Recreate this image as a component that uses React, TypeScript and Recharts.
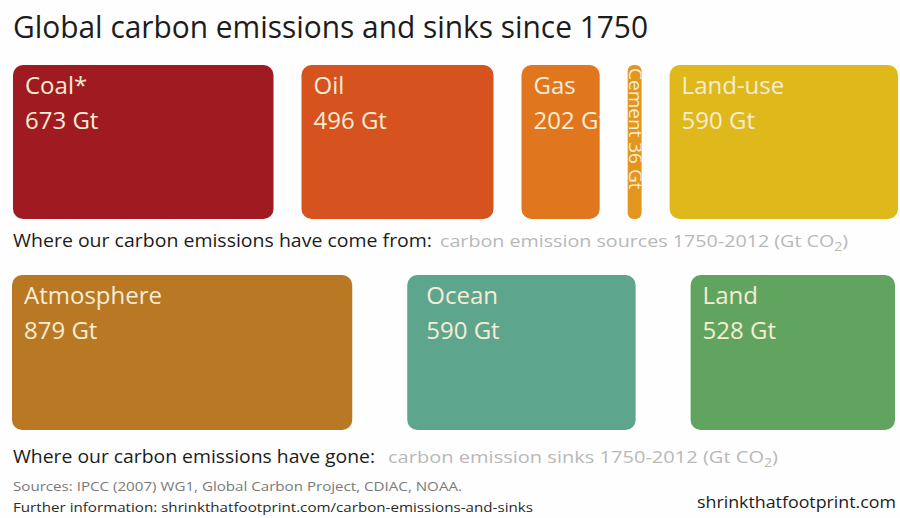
import { BarChart, Bar, XAxis, YAxis } from 'recharts'

// emission sources 1750-2012 (Gt CO2)
const sourceNames = ['Coal*', 'Oil', 'Gas', 'Cement', 'Land-use']
const sourceValues = [673, 496, 202, 36, 590]
// emission sinks 1750-2012 (Gt CO2)
const sinkNames = ['Atmosphere', 'Ocean', 'Land']
const sinkValues = [879, 590, 528]

const sourceColors = ['#a01b21', '#d6521e', '#e0761e', '#e2961e', '#dfb81c']
const sinkColors = ['#b87824', '#5ea58e', '#60a460']

const FONT = '"Open Sans", "DejaVu Sans", sans-serif'
const LABEL = '#f7ecd4'
const SCALE = 0.387 // px per Gt, same for both rows

interface BlockProps {
  x?: number
  y?: number
  width?: number
  height?: number
  name: string
  value: number
  color: string
  shift: number
  pad: number
  id: string
}

function Block({ x = 0, y = 0, width = 0, height = 0, name, value, color, shift, pad, id }: BlockProps) {
  const left = x + shift
  const narrow = width < 30
  return (
    <g>
      <defs>
        <clipPath id={id}>
          <rect x={left} y={y} width={width} height={height} rx={narrow ? 6 : 10} />
        </clipPath>
      </defs>
      <rect x={left} y={y} width={width} height={height} rx={narrow ? 6 : 10} fill={color} />
      <g clipPath={`url(#${id})`} fontFamily={FONT} fill={LABEL}>
        {narrow ? (
          <text
            x={left + 1}
            y={y + 3}
            fontSize={19}
            transform={`rotate(90 ${left + 1} ${y + 3})`}
          >
            {`${name} ${value} Gt`}
          </text>
        ) : (
          <>
            <text x={left + pad} y={y + 29} fontSize={24}>{name}</text>
            <text x={left + pad} y={y + 64} fontSize={24}>{`${value} Gt`}</text>
          </>
        )}
      </g>
    </g>
  )
}

function Row({ names, values, colors, left, gap, height, prefix }: {
  names: string[]
  values: number[]
  colors: string[]
  left: number
  gap: number
  height: number
  prefix: string
}) {
  const total = values.reduce((a, b) => a + b, 0)
  const plotW = Math.round(total * SCALE)
  const row: Record<string, number | string> = { row: prefix }
  values.forEach((v, i) => { row[`${prefix}${i}`] = v })
  return (
    <BarChart
      width={900}
      height={height}
      data={[row]}
      layout="vertical"
      barCategoryGap={0}
      margin={{ top: 0, right: 900 - left - plotW, bottom: 0, left }}
      style={{ overflow: 'visible' }}
    >
      <XAxis type="number" hide domain={[0, total]} />
      <YAxis type="category" dataKey="row" hide />
      {names.map((n, i) => (
        <Bar
          key={n}
          dataKey={`${prefix}${i}`}
          stackId="s"
          isAnimationActive={false}
          shape={(p: any) => (
            <Block
              {...p}
              name={n}
              value={values[i]}
              color={colors[i]}
              shift={i * gap}
              pad={n === 'Ocean' ? 19 : 12}
              id={`clip-${prefix}-${i}`}
            />
          )}
        />
      ))}
    </BarChart>
  )
}

export default function App() {
  return (
    <div style={{ position: 'absolute', left: 0, top: 0, width: 900, height: 518, background: '#fefefe', overflow: 'hidden' }}>
      <div style={{ position: 'absolute', left: 0, top: 65 }}>
        <Row names={sourceNames} values={sourceValues} colors={sourceColors} left={13} gap={28} height={154} prefix="src" />
      </div>
      <div style={{ position: 'absolute', left: 0, top: 275 }}>
        <Row names={sinkNames} values={sinkValues} colors={sinkColors} left={12} gap={55} height={155} prefix="snk" />
      </div>
      <svg width={900} height={518} style={{ position: 'absolute', left: 0, top: 0, pointerEvents: 'none' }} fontFamily={FONT}>
        <text x={13} y={38} fontSize={31} fill="#1c1c1c" textLength={635} lengthAdjust="spacingAndGlyphs">
          Global carbon emissions and sinks since 1750
        </text>
        <text x={13} y={247} fontSize={18} fill="#1c1c1c" textLength={419} lengthAdjust="spacingAndGlyphs">
          Where our carbon emissions have come from:
        </text>
        <text x={440} y={247} fontSize={17} fill="#b8b8b8" textLength={408} lengthAdjust="spacingAndGlyphs">
          carbon emission sources 1750-2012 (Gt CO<tspan fontSize={12} dy={4}>2</tspan><tspan dy={-4}>)</tspan>
        </text>
        <text x={13} y={463} fontSize={18} fill="#1c1c1c" textLength={362} lengthAdjust="spacingAndGlyphs">
          Where our carbon emissions have gone:
        </text>
        <text x={388} y={463} fontSize={17} fill="#b8b8b8" textLength={390} lengthAdjust="spacingAndGlyphs">
          carbon emission sinks 1750-2012 (Gt CO<tspan fontSize={12} dy={4}>2</tspan><tspan dy={-4}>)</tspan>
        </text>
        <text x={13} y={491} fontSize={13} fill="#7a7a7a" textLength={449} lengthAdjust="spacingAndGlyphs">
          Sources: IPCC (2007) WG1, Global Carbon Project, CDIAC, NOAA.
        </text>
        <text x={13} y={512} fontSize={13} fill="#2a2a2a" textLength={520} lengthAdjust="spacingAndGlyphs">
          Further information: shrinkthatfootprint.com/carbon-emissions-and-sinks
        </text>
        <text x={697} y={508} fontSize={17} fill="#1c1c1c" textLength={199} lengthAdjust="spacingAndGlyphs">
          shrinkthatfootprint.com
        </text>
      </svg>
    </div>
  )
}
